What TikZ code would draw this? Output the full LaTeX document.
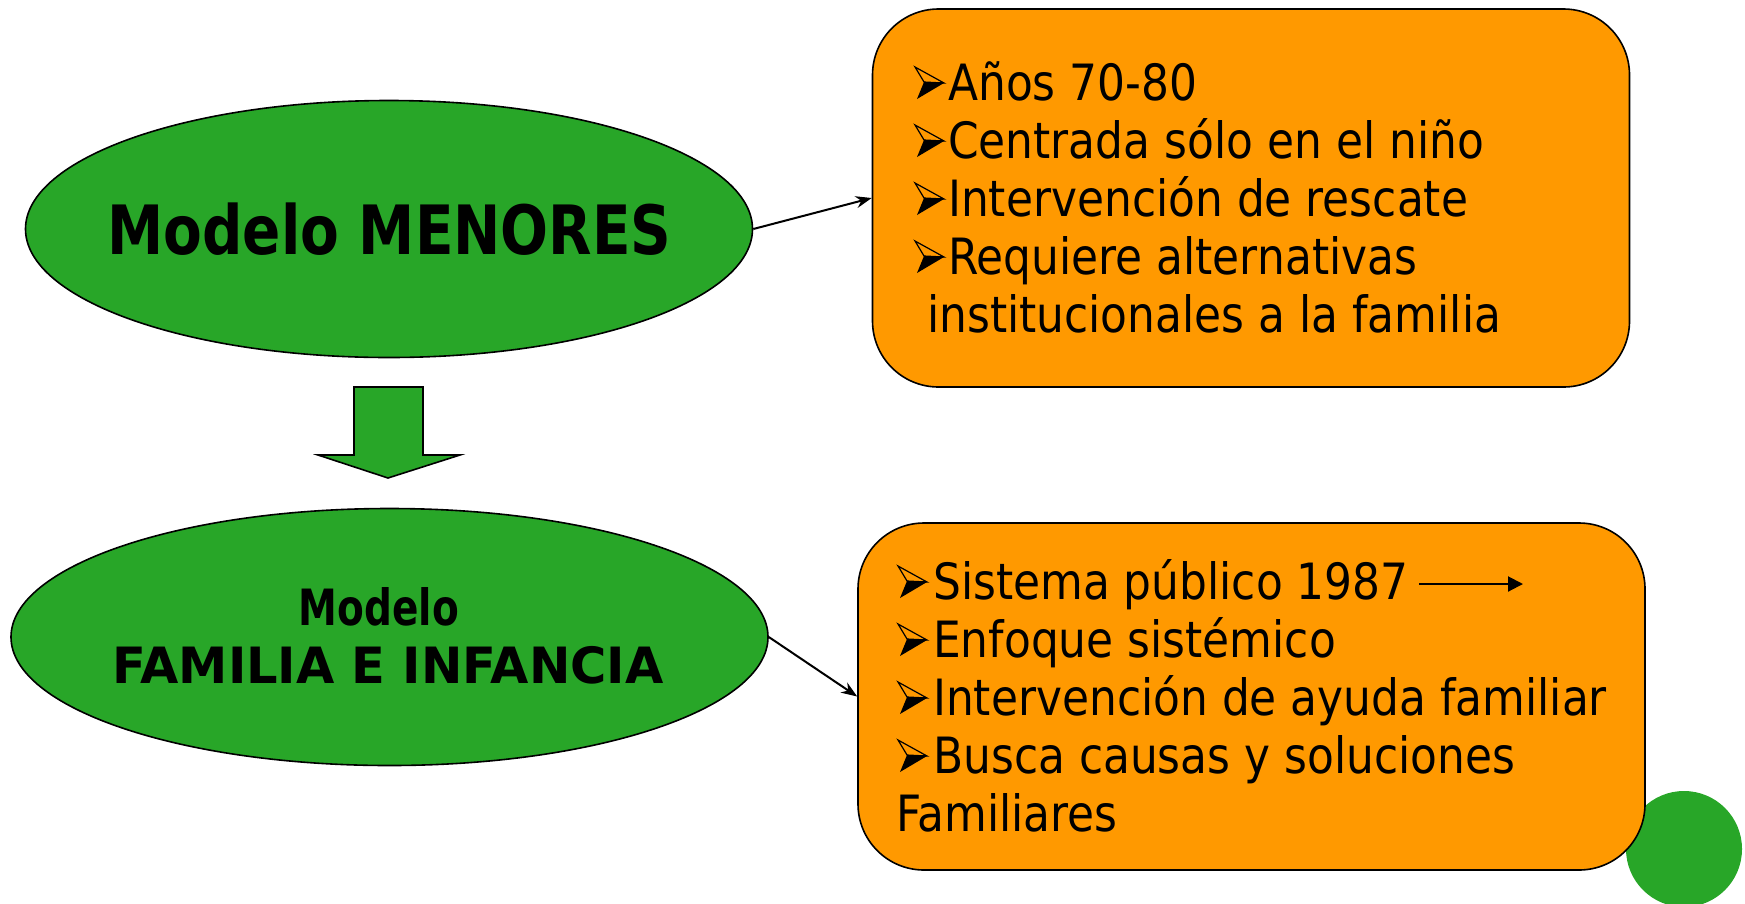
\documentclass[tikz,border=0pt]{standalone}
\usepackage{fontspec}
\setmainfont{DejaVu Sans}[FakeStretch=0.878]
\newfontfamily\titlefont{DejaVu Sans}[FakeStretch=0.83]
\newfontfamily\famfont{DejaVu Sans}[FakeStretch=0.99]
\newfontfamily\modfont{DejaVu Sans}[FakeStretch=0.78]
\usetikzlibrary{arrows.meta,shapes.geometric}
\definecolor{leaf}{HTML}{28A628}
\definecolor{amber}{HTML}{FF9900}
\tikzset{
  oval/.style={ellipse, draw=black, line width=1.6pt, fill=leaf, inner sep=0pt},
  panel/.style={draw=black, line width=1.6pt, fill=amber, rounded corners=66pt, inner sep=0pt},
  line/.style={anchor=base west, inner sep=0pt, font=\fontsize{50}{58}\selectfont},
  conn/.style={line width=2pt, -{Stealth[length=16pt,width=12pt]}},
  bullet/.pic={
    \draw[line width=1.2pt, line join=miter] (0,-33) -- (29,-17) -- (9,-18) -- cycle;
    \fill[black] (9,-18) -- (29,-17) -- (2,-1) -- cycle;
  },
}
\begin{document}
\begin{tikzpicture}[x=1pt,y=-1pt]
\useasboundingbox (0,0) rectangle (1745,903);
% decorative circle
\fill[leaf] (1684,849) circle (58);
% ellipses
\node[oval, minimum width=727pt, minimum height=257pt] (e1) at (389,229) {};
\node[anchor=base, inner sep=0pt, font=\titlefont\bfseries\fontsize{68}{70}\selectfont] (t1) at (389.5,254) {Modelo MENORES};
\node[oval, minimum width=757pt, minimum height=257pt] (e2) at (389.5,637) {};
\node[anchor=base, inner sep=0pt, font=\modfont\bfseries\fontsize{50}{52}\selectfont] (t2) at (379,625) {Modelo};
\node[anchor=base, inner sep=0pt, font=\famfont\bfseries\fontsize{50}{52}\selectfont] (t3) at (388,683) {FAMILIA E INFANCIA};
% block arrow
\draw[fill=leaf, line width=1.6pt] (354,387) -- (423,387) -- (423,455) -- (460,455) -- (388,478) -- (318,455) -- (354,455) -- cycle;
% boxes
\node[panel, minimum width=757pt, minimum height=378pt] (b1) at (1251,198) {};
\node[panel, minimum width=787pt, minimum height=347pt] (b2) at (1251.5,696.5) {};
% box 1 text
\pic at (915,100) {bullet};
\pic at (915,158) {bullet};
\pic at (915,216) {bullet};
\pic at (915,274) {bullet};
\node[line] (l1) at (948,100) {Años 70-80};
\node[line] (l2) at (948,158) {Centrada sólo en el niño};
\node[line] (l3) at (948,216) {Intervención de rescate};
\node[line] (l4) at (948,274) {Requiere alternativas};
\node[line] (l5) at (927,332) {institucionales a la familia};
% box 2 text
\pic at (898,599) {bullet};
\pic at (898,657) {bullet};
\pic at (898,715) {bullet};
\pic at (898,773) {bullet};
\node[line] (l6) at (933,599) {Sistema público 1987};
\node[line] (l7) at (933,657) {Enfoque sistémico};
\node[line] (l8) at (933,715) {Intervención de ayuda familiar};
\node[line] (l9) at (933,773) {Busca causas y soluciones};
\node[line] (l10) at (896,831) {Familiares};
\coordinate (s1) at (1419,584);
\coordinate (s2) at (1523,584);
\draw[line width=2pt, -{Triangle[length=15pt,width=15pt]}] (s1) -- (s2);
% connectors
\draw[conn] (e1.east) -- (b1.west);
\draw[conn] (e2.east) -- (b2.west);
\end{tikzpicture}
\end{document}
